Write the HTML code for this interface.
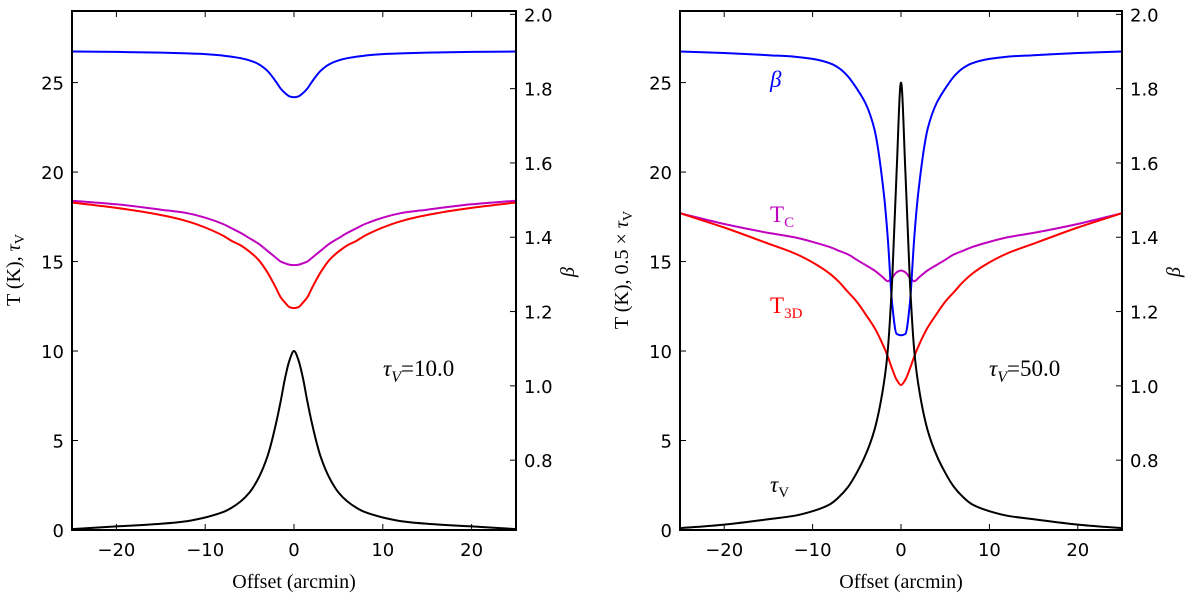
<!DOCTYPE html>
<html><head><meta charset="utf-8"><style>
body{margin:0;background:#fff}
svg text{font-family:"DejaVu Sans","Liberation Sans",sans-serif}
.serif{font-family:"Liberation Serif","DejaVu Serif",serif}
</style></head><body>
<svg id="c" width="1200" height="598" xmlns="http://www.w3.org/2000/svg"></svg>
<script>
const xs = [-25,-20,-15,-12,-10,-8,-7,-6,-5,-4,-3,-2,-1.5,-1,-0.5,0,0.5,1,1.5,2,3,4,5,6,7,8,10,12,15,20,25];
function sym(h){return h.concat(h.slice(0,-1).reverse());}
const tauL = sym([0.05,0.2,0.35,0.5,0.7,1.0,1.25,1.6,2.1,2.9,4.1,6.0,7.2,8.5,9.5,10]);
const betaL = sym([1.9,1.899,1.897,1.895,1.893,1.889,1.886,1.882,1.876,1.866,1.848,1.818,1.80,1.788,1.779,1.777]);
const tcL = sym([18.4,18.2,17.9,17.7,17.45,17.1,16.85,16.6,16.3,16.0,15.6,15.2,15.0,14.9,14.82,14.8]);
const t3dL = sym([18.3,18.0,17.6,17.25,16.9,16.45,16.15,15.9,15.55,15.1,14.4,13.5,13.0,12.7,12.45,12.4]);
const tauR = sym([0.1,0.3,0.6,0.8,1.05,1.45,1.85,2.4,3.2,4.2,5.6,8.0,10,14,20,25]);
const betaR = sym([1.9,1.896,1.89,1.886,1.88,1.868,1.855,1.833,1.80,1.76,1.69,1.53,1.40,1.22,1.14,1.136]);
const tcR = sym([17.7,17.1,16.6,16.35,16.1,15.8,15.6,15.4,15.1,14.8,14.5,14.1,13.9,14.1,14.4,14.5]);
const t3dR = sym([17.7,16.9,16.0,15.45,14.95,14.3,13.85,13.3,12.75,12.05,11.3,10.3,9.7,9.0,8.4,8.1]);
const xTicks = [-20,-10,0,10,20];
const yTicks = [0,5,10,15,20,25];
const bTicks = [0.8,1.0,1.2,1.4,1.6,1.8,2.0];

const svg=document.getElementById('c');
const NS='http://www.w3.org/2000/svg';
function el(t,a,p){const e=document.createElementNS(NS,t);for(const k in a)e.setAttribute(k,a[k]);(p||svg).appendChild(e);return e;}
function txt(s,a,p){const e=el('text',a,p);e.textContent=s;return e;}

function monoPath(px,py){
  const n=px.length,d=[],m=[];
  for(let i=0;i<n-1;i++)d.push((py[i+1]-py[i])/(px[i+1]-px[i]));
  m[0]=d[0];m[n-1]=d[n-2];
  for(let i=1;i<n-1;i++){
    if(d[i-1]*d[i]<=0)m[i]=0;
    else{const w1=2*(px[i+1]-px[i])+(px[i]-px[i-1]),w2=(px[i+1]-px[i])+2*(px[i]-px[i-1]);m[i]=(w1+w2)/(w1/d[i-1]+w2/d[i]);}
  }
  let s='M'+px[0].toFixed(1)+','+py[0].toFixed(1);
  for(let i=0;i<n-1;i++){
    const h=px[i+1]-px[i];
    s+='C'+(px[i]+h/3).toFixed(1)+','+(py[i]+m[i]*h/3).toFixed(1)+' '+(px[i+1]-h/3).toFixed(1)+','+(py[i+1]-m[i+1]*h/3).toFixed(1)+' '+px[i+1].toFixed(1)+','+py[i+1].toFixed(1);
  }
  return s;
}

function panel(name,L,R,tau,beta,tc,t3d,ylab,ann,labels,ylx){
  const T=11,B=530;
  const g=el('g',{});
  
  
  const sx=v=>L+(v+25)/50*(R-L);
  const sy=v=>B-v/29*(B-T);
  const sb=v=>B-(v-0.612)/(2.009-0.612)*(B-T);
  function line(ys,f,col,nm){
    const p=el('path',{d:monoPath(xs.map(sx),ys.map(f)),fill:'none',stroke:col,'stroke-width':2,'stroke-linejoin':'round'},g);
    
    
  }
  line(tc,sy,'#bf00bf','tc-line');
  line(t3d,sy,'#ff0000','t3d-line');
  line(beta,sb,'#0000ff','beta-line');
  line(tau,sy,'#000','tau-line');
  xTicks.forEach(v=>{
    el('line',{x1:sx(v),x2:sx(v),y1:B,y2:B-6,stroke:'#000'},g);
    el('line',{x1:sx(v),x2:sx(v),y1:T,y2:T+6,stroke:'#000'},g);
    const t=txt(v<0?'\u2212'+(-v):String(v),{x:sx(v),y:B+26,'font-size':18,'text-anchor':'middle'},g);
    
    
  });
  yTicks.forEach(v=>{
    el('line',{x1:L,x2:L+6,y1:sy(v),y2:sy(v),stroke:'#000'},g);
    const t=txt(String(v),{x:L-8,y:sy(v)+7,'font-size':18,'text-anchor':'end'},g);
    
    
  });
  bTicks.forEach(v=>{
    el('line',{x1:R,x2:R-6,y1:sb(v),y2:sb(v),stroke:'#000'},g);
    const t=txt(v.toFixed(1),{x:R+8,y:sb(v)+7,'font-size':18},g);
    
    
  });
  const fr=el('rect',{x:L,y:T,width:R-L,height:B-T,fill:'none',stroke:'#000','stroke-width':2},g);
  
  
  const xl=txt('Offset (arcmin)',{x:(L+R)/2,y:588,'font-size':20,'text-anchor':'middle',class:'serif'},g);
  
  
  const yl=el('text',{x:0,y:0,'font-size':20,'text-anchor':'middle',class:'serif',transform:`translate(${ylx},270) rotate(-90)`},g);
  yl.innerHTML=ylab;
  
  
  const bl=txt('\u03B2',{x:0,y:0,'font-size':20,'font-style':'italic',class:'serif','text-anchor':'middle',transform:`translate(${R+58},272) rotate(-90)`},g);
  
  
  const an=el('text',{x:R-133,y:376,'font-size':23,class:'serif'},g);
  an.innerHTML='<tspan font-style="italic">\u03C4</tspan><tspan font-size="16" font-style="italic" dy="6">V</tspan><tspan dy="-6">=' + ann + '</tspan>';
  
  
  if(labels){
    const add=(html,x,y,col,nm)=>{const t=el('text',{x:x,y:y,'font-size':23,fill:col,class:'serif'},g);t.innerHTML=html;};
    add('<tspan font-style="italic">\u03B2</tspan>',L+90,87,'#0000ff','beta-label');
    add('T<tspan font-size="15" dy="5">C</tspan>',L+90,222,'#bf00bf','tc-label');
    add('T<tspan font-size="15" dy="5">3D</tspan>',L+90,313,'#ff0000','t3d-label');
    add('<tspan font-style="italic">\u03C4</tspan><tspan font-size="15" dy="5">V</tspan>',L+90,492,'#000','tau-label');
  }
}
panel('left-panel',72,516,tauL,betaL,tcL,t3dL,'T (K),  <tspan font-style="italic">\u03C4</tspan><tspan font-size="14" dy="4">V</tspan>','10.0',false,20);
panel('right-panel',680,1122,tauR,betaR,tcR,t3dR,'T (K),  0.5 \u00D7 <tspan font-style="italic">\u03C4</tspan><tspan font-size="14" dy="4">V</tspan>','50.0',true,628);
</script>
</body></html>
